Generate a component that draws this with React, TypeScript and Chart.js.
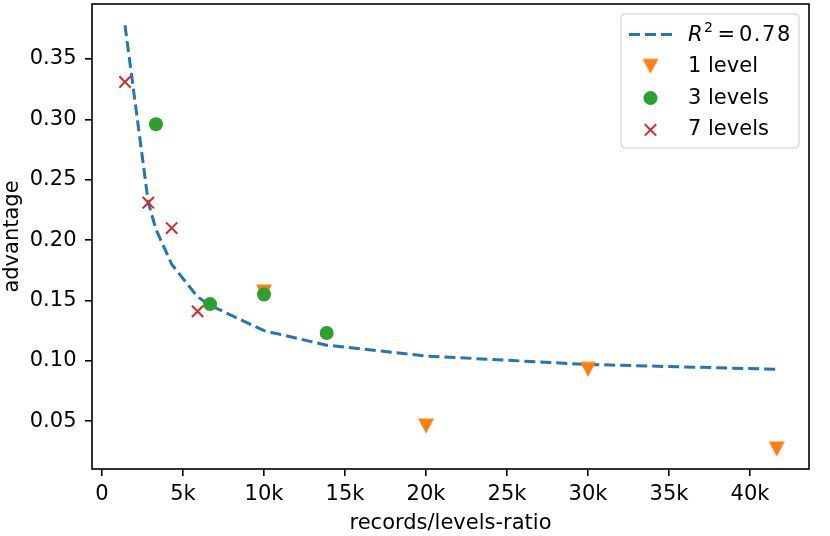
import { useEffect, useRef } from "react";
import { Chart, ChartConfiguration, registerables } from "chart.js";
Chart.register(...registerables);

const FONT = '"DejaVu Sans", "Liberation Sans", sans-serif';
const BLUE = "#1f77b4";
const ORANGE = "#ff7f0e";
const GREEN = "#2ca02c";
const RED = "#d62728";

// records/levels-ratio vs advantage
const oneLevelX = [10000, 20000, 30000, 41650];
const oneLevelY = [0.157, 0.046, 0.093, 0.027];
const threeLevelsX = [3330, 6670, 10000, 13870];
const threeLevelsY = [0.296, 0.147, 0.155, 0.123];
const sevenLevelsX = [1420, 2860, 4300, 5900];
const sevenLevelsY = [0.331, 0.231, 0.21, 0.141];

// fitted curve, sampled at the measured ratios
const fitX = [1420, 2860, 3330, 4300, 5900, 6670, 10000, 13870, 20000, 30000, 41650];
const fitY = [0.378, 0.231, 0.209, 0.18, 0.153, 0.146, 0.125, 0.113, 0.104, 0.097, 0.093];
const fitR2 = "0.78";

const seriesLabels = ["1 level", "3 levels", "7 levels"];

const xTicks = [0, 5000, 10000, 15000, 20000, 25000, 30000, 35000, 40000];
const yTicks = [0.05, 0.1, 0.15, 0.2, 0.25, 0.3, 0.35];
const xRange = [-617, 43640];
const yRange = [0.0104, 0.3956];

const toPoints = (xs: number[], ys: number[]) => xs.map((x, i) => ({ x, y: ys[i] }));

// matplotlib "v" marker: centred on its bounding box, not its centroid
function makeTriangle(): HTMLCanvasElement {
  const c = document.createElement("canvas");
  c.width = 18;
  c.height = 18;
  const g = c.getContext("2d")!;
  g.fillStyle = ORANGE;
  g.beginPath();
  g.moveTo(1, 1.5);
  g.lineTo(17, 1.5);
  g.lineTo(9, 16.5);
  g.closePath();
  g.fill();
  return c;
}

const App = () => {
  const chartRef = useRef<HTMLCanvasElement>(null);
  const chartInstanceRef = useRef<Chart | null>(null);

  useEffect(() => {
    if (chartInstanceRef.current) {
      chartInstanceRef.current.destroy();
    }
    if (!chartRef.current) return;
    const ctx = chartRef.current.getContext("2d");
    if (!ctx) return;

    const triangle = makeTriangle();

    const framePlugin = {
      id: "frameAndLegend",
      afterDraw(chart: Chart) {
        const { ctx: c, chartArea: a } = chart;
        c.save();
        c.strokeStyle = "#000";
        c.lineWidth = 1.6;
        c.strokeRect(a.left, a.top, a.right - a.left, a.bottom - a.top);

        // legend box
        c.beginPath();
        c.roundRect(621, 14, 178, 134, 4);
        c.fillStyle = "rgba(255,255,255,0.8)";
        c.fill();
        c.strokeStyle = "#cccccc";
        c.lineWidth = 1;
        c.stroke();

        const rows = [34.5, 66.3, 98.1, 129.9];
        const hx = 650.5;

        c.strokeStyle = BLUE;
        c.lineWidth = 3;
        c.setLineDash([11, 5]);
        c.beginPath();
        c.moveTo(629, rows[0]);
        c.lineTo(672, rows[0]);
        c.stroke();
        c.setLineDash([]);

        c.drawImage(triangle, hx - 9, rows[1] - 9);

        c.fillStyle = GREEN;
        c.beginPath();
        c.arc(hx, rows[2], 7, 0, Math.PI * 2);
        c.fill();

        c.strokeStyle = RED;
        c.lineWidth = 2;
        c.beginPath();
        c.moveTo(hx - 5.7, rows[3] - 5.7);
        c.lineTo(hx + 5.7, rows[3] + 5.7);
        c.moveTo(hx + 5.7, rows[3] - 5.7);
        c.lineTo(hx - 5.7, rows[3] + 5.7);
        c.stroke();

        // R^2 = 0.78 in mathtext style
        c.fillStyle = "#000";
        c.textAlign = "left";
        c.textBaseline = "alphabetic";
        c.font = `italic 21px ${FONT}`;
        c.fillText("R", 688, 40.5);
        c.font = `14px ${FONT}`;
        c.fillText("2", 704, 31.7);
        c.font = `21px ${FONT}`;
        c.fillText("=", 717.5, 40.5);
        (c as any).letterSpacing = "1.5px";
        c.fillText(fitR2, 739, 40.5);
        (c as any).letterSpacing = "0px";

        c.textBaseline = "middle";
        seriesLabels.forEach((label, i) => c.fillText(label, 688, rows[i + 1]));
        c.restore();
      },
    };

    const tickFont = { family: FONT, size: 21 };

    const config: ChartConfiguration = {
      type: "scatter",
      data: {
        datasets: [
          {
            label: `R² = ${fitR2}`,
            data: toPoints(fitX, fitY),
            showLine: true,
            borderColor: BLUE,
            borderWidth: 3,
            borderDash: [11, 5],
            pointRadius: 0,
            tension: 0,
            order: 4,
          },
          {
            label: seriesLabels[0],
            data: toPoints(oneLevelX, oneLevelY),
            pointStyle: triangle,
            backgroundColor: ORANGE,
            borderWidth: 0,
            order: 3,
          },
          {
            label: seriesLabels[1],
            data: toPoints(threeLevelsX, threeLevelsY),
            pointStyle: "circle",
            pointRadius: 7,
            backgroundColor: GREEN,
            borderColor: GREEN,
            borderWidth: 0,
            order: 2,
          },
          {
            label: seriesLabels[2],
            data: toPoints(sevenLevelsX, sevenLevelsY),
            pointStyle: "crossRot",
            pointRadius: 8,
            borderColor: RED,
            backgroundColor: RED,
            borderWidth: 2,
            order: 1,
          },
        ],
      } as any,
      options: {
        animation: false,
        responsive: false,
        maintainAspectRatio: false,
        events: [],
        layout: { autoPadding: false, padding: { left: 0, right: 21, top: 4, bottom: 0 } },
        plugins: {
          legend: { display: false },
          tooltip: { enabled: false },
        },
        scales: {
          x: {
            type: "linear",
            min: xRange[0],
            max: xRange[1],
            afterBuildTicks: (s: any) => {
              s.ticks = xTicks.map((value) => ({ value }));
            },
            afterFit: (s: any) => {
              s.height = 67;
              s.paddingLeft = 0;
              s.paddingRight = 0;
            },
            ticks: {
              color: "#000",
              font: tickFont,
              padding: 6,
              maxRotation: 0,
              autoSkip: false,
              callback: (v: any) => (Number(v) === 0 ? "0" : `${Number(v) / 1000}k`),
            },
            grid: {
              drawOnChartArea: false,
              drawTicks: true,
              tickLength: 7,
              color: "#000",
              lineWidth: 1.6,
            },
            border: { display: false },
            title: {
              display: true,
              text: "records/levels-ratio",
              color: "#000",
              font: tickFont,
              padding: { top: 0, bottom: 0 },
            },
          },
          y: {
            type: "linear",
            min: yRange[0],
            max: yRange[1],
            afterBuildTicks: (s: any) => {
              s.ticks = yTicks.map((value) => ({ value }));
            },
            afterFit: (s: any) => {
              s.width = 92;
              s.paddingTop = 0;
              s.paddingBottom = 0;
            },
            ticks: {
              color: "#000",
              font: tickFont,
              padding: 8.5,
              autoSkip: false,
              callback: (v: any) => Number(v).toFixed(2),
            },
            grid: {
              drawOnChartArea: false,
              drawTicks: true,
              tickLength: 7,
              color: "#000",
              lineWidth: 1.6,
            },
            border: { display: false },
            title: {
              display: true,
              text: "advantage",
              color: "#000",
              font: tickFont,
              padding: { top: 0, bottom: 0 },
            },
          },
        },
      } as any,
      plugins: [framePlugin],
    };

    chartInstanceRef.current = new Chart(ctx, config);

    return () => {
      if (chartInstanceRef.current) {
        chartInstanceRef.current.destroy();
        chartInstanceRef.current = null;
      }
    };
  }, []);

  return (
    <div
      style={{
        position: "absolute",
        left: 0,
        top: 0,
        width: 830,
        height: 536,
        background: "#fff",
      }}
    >
      <canvas ref={chartRef} width={830} height={536} style={{ width: 830, height: 536 }} />
    </div>
  );
};

export default App;
